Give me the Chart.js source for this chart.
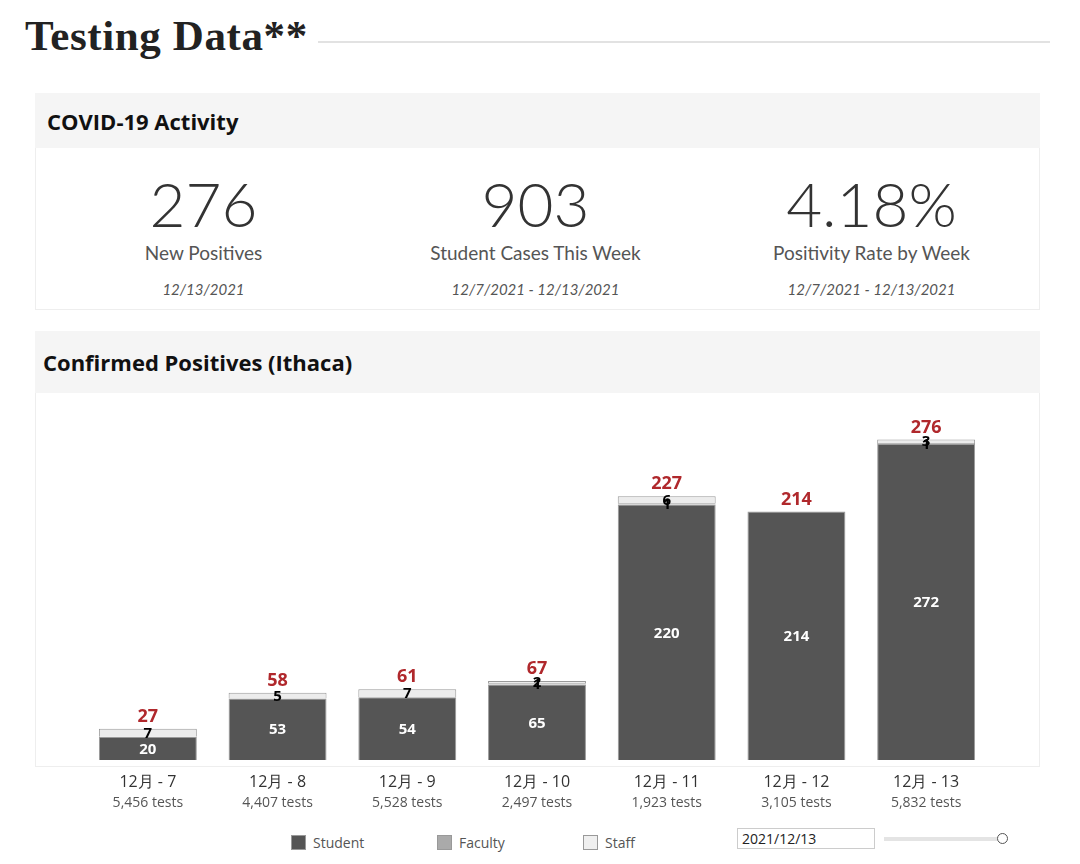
<!DOCTYPE html>
<html>
<head>
<meta charset="utf-8">
<script src="https://cdn.jsdelivr.net/npm/chart.js@4.4.0/dist/chart.umd.min.js"></script>
<style>
  body { margin: 0; width: 1080px; height: 864px; background: #fff; position: relative; overflow: hidden; font-family: 'Lato', sans-serif; }
  .title { position: absolute; left: 25px; top: 11px; font-family: 'Liberation Serif', serif; font-weight: bold; font-size: 43px; letter-spacing: 0.6px; color: #222; }
  .rule { position: absolute; left: 318px; top: 41px; width: 732px; height: 2px; background: #e2e2e2; }
  .head { position: absolute; left: 35px; width: 1005px; background: #f5f5f5; font-family: 'Open Sans', sans-serif; font-weight: 700; color: #111; box-sizing: border-box; }
  .box { position: absolute; left: 35px; width: 1005px; border: 1px solid #eee; border-top: none; box-sizing: border-box; }
  .kpi { position: absolute; top: 0; width: 335px; text-align: center; color: #333; }
  .kpi .num { position: absolute; left: 0; right: 0; top: 18px; font-size: 62px; font-weight: 300; color: #333; }
  .kpi .lbl { position: absolute; left: 0; right: 0; top: 93px; font-size: 19px; color: #555; }
  .kpi .dt { position: absolute; left: 0; right: 0; top: 132px; font-size: 15px; font-style: italic; color: #555; }
  #wrap { position: absolute; left: 35px; top: 393px; width: 1005px; height: 420px; }
  .legend { position: absolute; top: 833px; font-size: 14px; color: #555; font-family: 'Open Sans', sans-serif; }
  .legend span.sw { display: inline-block; width: 13px; height: 13px; border: 1px solid #999; vertical-align: -2px; margin-right: 7px; }
  .datebox { position: absolute; left: 737px; top: 828px; width: 138px; height: 21px; border: 1px solid #ccc; box-sizing: border-box; font-size: 14px; padding-left: 4px; line-height: 19px; color: #222; font-family: 'Open Sans', sans-serif; }
  .slider { position: absolute; left: 884px; top: 837px; width: 114px; height: 4px; background: #e4e4e4; }
  .knob { position: absolute; left: 997px; top: 833px; width: 9px; height: 9px; border: 1.5px solid #555; border-radius: 50%; background: #fff; }
</style>
</head>
<body>
<div class="title">Testing Data**</div>
<div class="rule"></div>

<div class="head" style="top:93px;height:55px;padding:13px 0 0 12px;font-size:22px;">COVID-19 Activity</div>
<div class="box" style="top:148px;height:162px;">
  <div class="kpi" style="left:0;"><div class="num">276</div><div class="lbl">New Positives</div><div class="dt">12/13/2021</div></div>
  <div class="kpi" style="left:332px;"><div class="num">903</div><div class="lbl">Student Cases This Week</div><div class="dt">12/7/2021 - 12/13/2021</div></div>
  <div class="kpi" style="left:668px;"><div class="num">4.18%</div><div class="lbl">Positivity Rate by Week</div><div class="dt">12/7/2021 - 12/13/2021</div></div>
</div>

<div class="head" style="top:331px;height:62px;padding:16px 0 0 8px;font-size:22px;">Confirmed Positives (Ithaca)</div>
<div class="box" style="top:393px;height:374px;"></div>
<div id="wrap"><canvas id="chart"></canvas></div>

<div class="legend" style="left:291px;"><span class="sw" style="background:#555;"></span>Student</div>
<div class="legend" style="left:437px;"><span class="sw" style="background:#aaa;"></span>Faculty</div>
<div class="legend" style="left:583px;"><span class="sw" style="background:#efefef;"></span>Staff</div>
<div class="datebox">2021/12/13</div>
<div class="slider"></div>
<div class="knob"></div>

<script>
const days = ['12月 - 7', '12月 - 8', '12月 - 9', '12月 - 10', '12月 - 11', '12月 - 12', '12月 - 13'];
const tests = ['5,456 tests', '4,407 tests', '5,528 tests', '2,497 tests', '1,923 tests', '3,105 tests', '5,832 tests'];
const student = [20, 53, 54, 65, 220, 214, 272];
const faculty = [0, 0, 0, 1, 1, 0, 1];
const staff = [7, 5, 7, 2, 6, 0, 3];
const totals = [27, 58, 61, 67, 227, 214, 276];

const labelColors = ['#fff', '#000', '#000'];

// draws segment values and the red totals from the bar elements
const barLabels = {
  id: 'barLabels',
  afterDatasetsDraw(chart) {
    const ctx = chart.ctx;
    ctx.save();
    ctx.textAlign = 'center';
    ctx.textBaseline = 'middle';
    chart.data.datasets.forEach((ds, i) => {
      const meta = chart.getDatasetMeta(i);
      ctx.font = 'bold 15px "Open Sans", sans-serif';
      ctx.fillStyle = labelColors[i];
      meta.data.forEach((bar, j) => {
        if (!ds.data[j]) {
          return;
        }
        ctx.fillText(ds.data[j], bar.x, (bar.y + bar.base) / 2 + 1);
      });
    });
    const top = chart.getDatasetMeta(2).data;
    ctx.font = 'bold 18px "Open Sans", sans-serif';
    ctx.fillStyle = '#b0282c';
    ctx.textBaseline = 'bottom';
    top.forEach((bar, j) => {
      ctx.fillText(totals[j], bar.x, bar.y - 3);
    });
    ctx.restore();
  }
};

new Chart(document.getElementById('chart'), {
  type: 'bar',
  data: {
    labels: days,
    datasets: [
      { label: 'Student', data: student, backgroundColor: '#555555', borderColor: '#9a9a9a', borderWidth: 1 },
      { label: 'Faculty', data: faculty, backgroundColor: '#aaaaaa', borderColor: '#9a9a9a', borderWidth: 1 },
      { label: 'Staff', data: staff, backgroundColor: '#ececec', borderColor: '#9a9a9a', borderWidth: 1 }
    ]
  },
  options: {
    responsive: true,
    maintainAspectRatio: false,
    animation: false,
    layout: { padding: { left: 48, right: 49, top: 0, bottom: 0 } },
    datasets: { bar: { categoryPercentage: 1, barPercentage: 0.755 } },
    plugins: { legend: { display: false }, tooltip: { enabled: false } },
    scales: {
      x: {
        stacked: true,
        grid: { display: true, color: 'transparent', drawOnChartArea: false, drawTicks: true, tickLength: 13 },
        border: { display: false },
        ticks: { color: '#333', font: { family: 'Open Sans', size: 16 }, padding: 0 }
      },
      x2: {
        type: 'category',
        labels: tests,
        position: 'bottom',
        grid: { display: false, drawTicks: false },
        border: { display: false },
        ticks: { color: '#555', font: { family: 'Open Sans', size: 14 }, padding: 2 }
      },
      y: {
        stacked: true,
        display: false,
        min: 0,
        max: 316
      }
    }
  },
  plugins: [barLabels]
});
</script>
</body>
</html>
